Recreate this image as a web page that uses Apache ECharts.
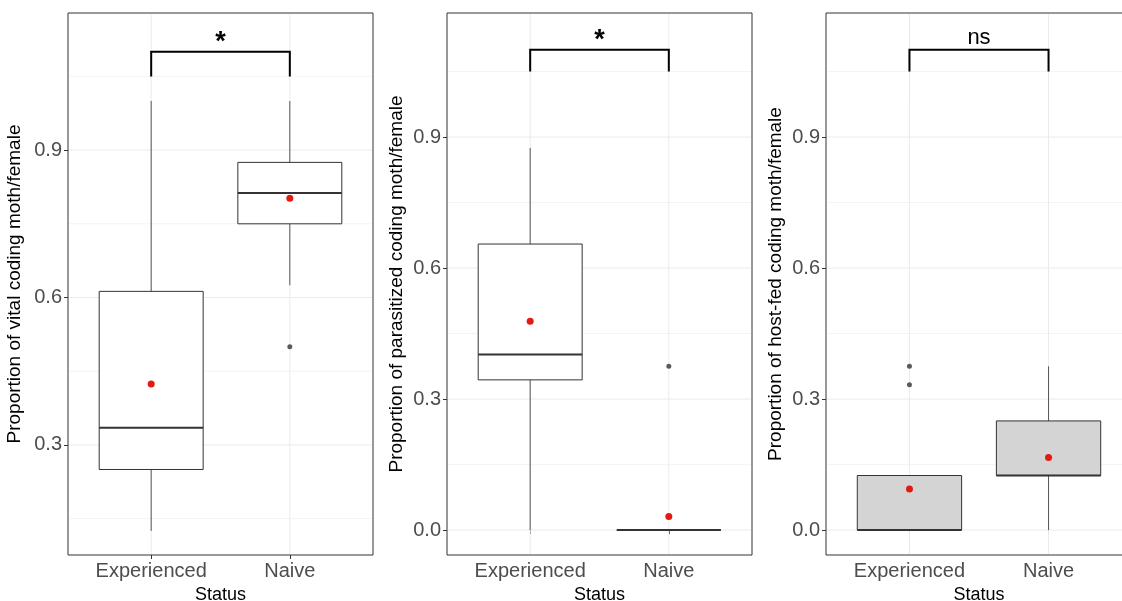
<!DOCTYPE html>
<html>
<head>
<meta charset="utf-8">
<script src="https://cdn.jsdelivr.net/npm/echarts@6/dist/echarts.min.js"></script>
<style>html,body{margin:0;padding:0;background:#fff;} #chart{width:1122px;height:601px;}</style>
</head>
<body>
<div id="chart"></div>
<script>
"use strict"
const statusLabels = ['Experienced', 'Naive'];
const statusPos = [1, 2];

// [lower whisker, Q1, median, Q3, upper whisker] for each status
const vitalBox = [[0.125, 0.25, 0.335, 0.6125, 1.0], [0.625, 0.75, 0.8125, 0.875, 1.0]];
const vitalMean = [0.424, 0.802];
const vitalOutliers = [[2, 0.5]];

const parasitBox = [[0, 0.344, 0.402, 0.655, 0.875], [0, 0, 0, 0, 0]];
const parasitMean = [0.478, 0.031];
const parasitOutliers = [[2, 0.375]];

const hostBox = [[0, 0, 0, 0.125, 0.125], [0, 0.125, 0.125, 0.25, 0.375]];
const hostMean = [0.094, 0.166];
const hostOutliers = [[1, 0.375], [1, 0.333]];

const yTitles = [
    'Proportion of vital coding moth/female',
    'Proportion of parasitized coding moth/female',
    'Proportion of host-fed coding moth/female'
];
const signifLabels = ['*', '*', 'ns'];
const bracketLow = 1.05;
const bracketHigh = 1.1;
const yMajor1 = [0.3, 0.6, 0.9];
const yMajor23 = [0, 0.3, 0.6, 0.9];
const yMinor = [0.15, 0.45, 0.75, 1.05];

const fontFamily = '"Liberation Sans", Arial, sans-serif';

let chart = echarts.init(document.getElementById('chart'));

// 背景网格线
function gridLines(params, api) {
    const cs = params.coordSys;
    const kind = api.value(0), v = api.value(1);
    if (kind === 0) {
        const x = api.coord([v, 0.5])[0];
        return {type: 'line', shape: {x1: x, y1: cs.y + 1, x2: x, y2: cs.y + cs.height - 1},
            style: {stroke: '#ebebeb', lineWidth: 1}};
    }
    const y = api.coord([1, v])[1];
    return {type: 'line', shape: {x1: cs.x + 1, y1: y, x2: cs.x + cs.width - 1, y2: y},
        style: {stroke: kind === 1 ? '#ebebeb' : '#f4f4f4', lineWidth: 1}};
}

function boxItem(fill) {
    return function (params, api) {
        const x = api.value(0);
        const half = api.size([0.75, 0])[0] / 2;
        const lo = api.coord([x, api.value(1)]);
        const q1 = api.coord([x, api.value(2)]);
        const md = api.coord([x, api.value(3)]);
        const q3 = api.coord([x, api.value(4)]);
        const hi = api.coord([x, api.value(5)]);
        const cx = lo[0];
        const wStyle = {stroke: '#555', lineWidth: 1};
        return {type: 'group', children: [
            {type: 'line', shape: {x1: cx, y1: hi[1], x2: cx, y2: q3[1]}, style: wStyle},
            {type: 'line', shape: {x1: cx, y1: q1[1], x2: cx, y2: lo[1]}, style: wStyle},
            {type: 'rect', shape: {x: cx - half, y: q3[1], width: half * 2, height: q1[1] - q3[1]},
                style: {fill: fill, stroke: '#333', lineWidth: 1}},
            {type: 'line', shape: {x1: cx - half, y1: md[1], x2: cx + half, y2: md[1]},
                style: {stroke: '#333', lineWidth: 2}}
        ]};
    };
}

function bracketItem(label) {
    return function (params, api) {
        const a = api.coord([api.value(0), api.value(2)]);
        const b = api.coord([api.value(0), api.value(3)]);
        const c = api.coord([api.value(1), api.value(3)]);
        const d = api.coord([api.value(1), api.value(2)]);
        const star = label === '*';
        return {type: 'group', children: [
            {type: 'polyline', shape: {points: [a, b, c, d]}, style: {stroke: '#000', lineWidth: 2, fill: null}},
            {type: 'text', x: (b[0] + c[0]) / 2, y: star ? b[1] + 4 : b[1] - 1,
                style: {text: label, fill: '#000', font: (star ? 'bold 27px ' : '22px ') + fontFamily,
                    align: 'center', verticalAlign: 'bottom'}}
        ]};
    };
}

const panels = [
    {box: vitalBox, mean: vitalMean, out: vitalOutliers, major: yMajor1, min: 0.076, max: 1.179, left: 68, width: 305, fill: '#ffffff', gap: 44},
    {box: parasitBox, mean: parasitMean, out: parasitOutliers, major: yMajor23, min: -0.057, max: 1.184, left: 447, width: 305, fill: '#ffffff', gap: 41},
    {box: hostBox, mean: hostMean, out: hostOutliers, major: yMajor23, min: -0.057, max: 1.184, left: 826, width: 306, fill: '#d4d4d4', gap: 41}
];

let grids = [], xAxes = [], yAxes = [], series = [];
panels.forEach(function (p, i) {
    grids.push({left: p.left, top: 13, width: p.width, height: 542, show: true,
        borderColor: '#333', borderWidth: 1, backgroundColor: '#fff', outerBoundsMode: 'none'});
    xAxes.push({
        gridIndex: i, type: 'value', min: 0.4, max: 2.6,
        name: 'Status', nameLocation: 'middle', nameGap: 28,
        nameTextStyle: {fontSize: 18, color: '#000', fontFamily: fontFamily},
        axisLine: {show: false},
        axisTick: {customValues: statusPos, length: 4, lineStyle: {color: '#333'}},
        axisLabel: {customValues: statusPos, formatter: v => statusLabels[Math.round(v) - 1],
            fontSize: 20, color: '#4d4d4d', margin: 6, fontFamily: fontFamily},
        splitLine: {show: false}
    });
    yAxes.push({
        gridIndex: i, type: 'value', min: p.min, max: p.max,
        name: yTitles[i], nameLocation: 'middle', nameGap: p.gap,
        nameTextStyle: {fontSize: 19, color: '#000', fontFamily: fontFamily},
        axisLine: {show: false},
        axisTick: {customValues: p.major, length: 4, lineStyle: {color: '#333'}},
        axisLabel: {customValues: p.major, formatter: v => v.toFixed(1),
            fontSize: 20, color: '#4d4d4d', margin: 6, fontFamily: fontFamily},
        splitLine: {show: false}
    });
    let lines = [];
    p.major.forEach(v => lines.push([1, v]));
    yMinor.forEach(v => lines.push([2, v]));
    statusPos.forEach(x => lines.push([0, x]));
    series.push({type: 'custom', xAxisIndex: i, yAxisIndex: i, z: 1, silent: true,
        renderItem: gridLines, data: lines});
    series.push({type: 'custom', xAxisIndex: i, yAxisIndex: i, z: 3, silent: true,
        renderItem: boxItem(p.fill), data: p.box.map((b, k) => [statusPos[k]].concat(b))});
    series.push({type: 'scatter', xAxisIndex: i, yAxisIndex: i, z: 4, symbolSize: 5,
        itemStyle: {color: '#333'}, data: p.out});
    series.push({type: 'scatter', xAxisIndex: i, yAxisIndex: i, z: 5, symbolSize: 7,
        itemStyle: {color: '#e31a12', opacity: 1}, data: p.mean.map((m, k) => [statusPos[k], m])});
    series.push({type: 'custom', xAxisIndex: i, yAxisIndex: i, z: 6, silent: true,
        renderItem: bracketItem(signifLabels[i]),
        data: [[statusPos[0], statusPos[1], bracketLow, bracketHigh]]});
});

chart.setOption({
    animation: false,
    textStyle: {fontFamily: fontFamily},
    grid: grids,
    xAxis: xAxes,
    yAxis: yAxes,
    series: series
});
</script>
</body>
</html>
